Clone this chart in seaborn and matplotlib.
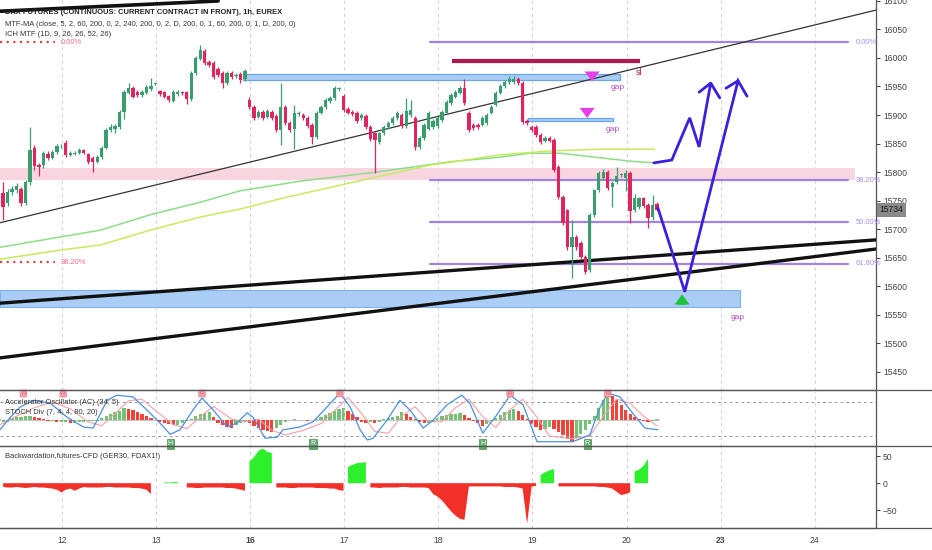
import seaborn as sns
import matplotlib.pyplot as plt
import numpy as np
from matplotlib.lines import Line2D

sns.set_theme(style="white")
plt.rcParams['font.family'] = ['Liberation Sans', 'DejaVu Sans']

# --- hourly candles (bar index 0..146) ---
opens = [15763, 15746, 15765, 15768, 15770, 15746, 15782, 15842, 15812, 15812, 15832, 15825, 15835, 15845, 15851,
         15830, 15832, 15833, 15839, 15832, 15825, 15818, 15826, 15842, 15874, 15876, 15879, 15905, 15939, 15947,
         15940, 15935, 15939, 15945, 15954, 15942, 15940, 15933, 15925, 15937, 15940, 15940, 15928, 15974, 15999,
         16012, 15993, 15991, 15981, 15974, 15956, 15974, 15968, 15972, 15963, 15926, 15914, 15897, 15905, 15897,
         15905, 15898, 15874, 15914, 15886, 15876, 15902, 15900, 15895, 15883, 15861, 15904, 15914, 15924, 15930,
         15945, 15933, 15911, 15905, 15904, 15895, 15898, 15879, 15868, 15853, 15868, 15879, 15886, 15895, 15900,
         15881, 15900, 15895, 15844, 15860, 15876, 15879, 15881, 15891, 15904, 15921, 15932, 15939, 15947, 15904,
         15883, 15883, 15883, 15886, 15904, 15918, 15939, 15951, 15958, 15958, 15963, 15956, 15890, 15879, 15879,
         15865, 15855, 15860, 15856, 15809, 15756, 15733, 15668, 15686, 15676, 15651, 15628, 15725, 15768, 15790,
         15800, 15773, 15782, 15795, 15790, 15798, 15733, 15739, 15754, 15742, 15721, 15744]
closes = [15739, 15765, 15770, 15775, 15746, 15782, 15839, 15810, 15808, 15833, 15825, 15835, 15846, 15846, 15830,
          15833, 15834, 15839, 15834, 15818, 15818, 15826, 15842, 15874, 15879, 15880, 15905, 15940, 15947, 15932,
          15935, 15940, 15949, 15950, 15955, 15937, 15932, 15926, 15940, 15940, 15938, 15928, 15974, 16000, 16014,
          15991, 15988, 15967, 15970, 15956, 15974, 15967, 15970, 15961, 15977, 15914, 15895, 15905, 15895, 15907,
          15895, 15874, 15914, 15886, 15874, 15904, 15904, 15895, 15881, 15861, 15904, 15914, 15926, 15930, 15947,
          15946, 15909, 15904, 15902, 15890, 15900, 15879, 15858, 15856, 15868, 15879, 15886, 15895, 15904, 15881,
          15907, 15909, 15844, 15860, 15883, 15904, 15890, 15895, 15905, 15923, 15935, 15940, 15947, 15921, 15874,
          15877, 15879, 15895, 15900, 15914, 15939, 15951, 15958, 15963, 15963, 15956, 15888, 15886, 15874, 15865,
          15853, 15860, 15855, 15804, 15756, 15711, 15668, 15686, 15668, 15651, 15625, 15725, 15768, 15798, 15800,
          15772, 15780, 15793, 15795, 15798, 15732, 15754, 15754, 15740, 15719, 15742, 15734]
highs = [15782, 15770, 15776, 15780, 15774, 15786, 15879, 15848, 15816, 15837, 15836, 15839, 15850, 15849, 15856,
         15836, 15837, 15842, 15841, 15834, 15828, 15829, 15846, 15878, 15884, 15884, 15909, 15944, 15956, 15950,
         15943, 15943, 15952, 15965, 15957, 15944, 15942, 15935, 15943, 15943, 15942, 15942, 15977, 16004, 16023,
         16015, 15996, 15994, 15984, 15977, 15977, 15977, 15973, 15975, 15980, 15931, 15917, 15908, 15908, 15910,
         15908, 15901, 15956, 15917, 15889, 15918, 15907, 15903, 15898, 15886, 15907, 15917, 15929, 15933, 15950,
         15949, 15936, 15914, 15908, 15907, 15903, 15901, 15882, 15871, 15871, 15882, 15889, 15898, 15907, 15903,
         15930, 15926, 15898, 15863, 15886, 15907, 15893, 15898, 15908, 15926, 15938, 15943, 15950, 15963, 15907,
         15886, 15886, 15898, 15903, 15917, 15942, 15954, 15961, 15968, 15968, 15966, 15959, 15893, 15882, 15882,
         15868, 15863, 15863, 15859, 15812, 15759, 15736, 15716, 15689, 15679, 15654, 15728, 15771, 15801, 15806,
         15803, 15784, 15809, 15798, 15804, 15801, 15762, 15757, 15757, 15745, 15760, 15747]
lows = [15715, 15740, 15760, 15764, 15740, 15742, 15778, 15804, 15793, 15807, 15821, 15822, 15832, 15842, 15826,
        15828, 15829, 15831, 15831, 15814, 15800, 15815, 15823, 15840, 15871, 15868, 15876, 15893, 15936, 15929,
        15932, 15932, 15936, 15942, 15952, 15934, 15929, 15922, 15922, 15934, 15935, 15919, 15925, 15971, 15996,
        15988, 15984, 15963, 15966, 15947, 15953, 15964, 15965, 15957, 15960, 15910, 15891, 15894, 15892, 15894,
        15891, 15870, 15847, 15882, 15870, 15840, 15899, 15892, 15877, 15849, 15858, 15901, 15911, 15921, 15927,
        15942, 15905, 15901, 15899, 15886, 15892, 15875, 15854, 15798, 15849, 15865, 15876, 15883, 15892, 15877,
        15878, 15897, 15839, 15841, 15857, 15873, 15876, 15878, 15888, 15901, 15918, 15929, 15936, 15917, 15870,
        15873, 15876, 15880, 15883, 15901, 15915, 15936, 15948, 15955, 15955, 15953, 15884, 15883, 15871, 15861,
        15849, 15852, 15852, 15800, 15752, 15707, 15664, 15614, 15664, 15647, 15621, 15625, 15721, 15765, 15787,
        15768, 15739, 15779, 15792, 15766, 15711, 15730, 15736, 15737, 15702, 15716, 15731]
last_price = 15734

# moving averages (bar, price)
ma_green_x = [-0.7, 12.7, 21.7, 32.8, 44.0, 52.9, 66.3, 83.5, 99.8, 110.9, 117.6, 124.3, 133.3, 140.0, 145.5]
ma_green_y = [15668, 15686, 15698, 15725, 15747, 15767, 15784, 15800, 15818, 15826, 15833, 15833, 15825, 15819, 15816]
ma_yellow_x = [-0.7, 12.7, 21.7, 32.8, 44.0, 52.9, 61.8, 77.5, 95.3, 110.9, 122.1, 133.3, 145.5]
ma_yellow_y = [15647, 15663, 15672, 15698, 15721, 15735, 15753, 15781, 15812, 15830, 15837, 15840, 15840]

# drawings
fib_levels = [16028, 15786, 15712, 15639]
fib_labels = ['0.00%', '38.20%', '50.00%', '61.80%']
left_fib_levels = [16028, 15642]
left_fib_labels = ['0.00%', '38.20%']
trend_thin = ([-0.7, 194.9], [15711, 16084])
trend_top = ([-0.7, 48.0], [16082, 16100])
trend_upper = ([-0.7, 194.9], [15570, 15681])
trend_lower = ([-0.7, 194.9], [15474, 15665])
path_b_x = [145.3, 149.3, 153.3, 155.4, 158.0, 160.0]
path_b_y = [15816, 15821, 15895, 15844, 15956, 15930]
head_b = ([155.4, 158.0], [15940, 15956])
path_a_x = [146.2, 152.2, 164.1, 166.1]
path_a_y = [15737, 15590, 15960, 15933]
head_a = ([161.4, 164.1], [15947, 15960])

# --- Accelerator oscillator + stoch ---
ac = [-2, -2, 2, 3, 3, 4, 4, 3, 2, 1, -1, -1, -2, -2, -2, -3, -3, -2, -2, -1, -1, -1, 2, 4, 6, 8, 9, 12, 11, 10,
      8, 6, 4, 2, 0, -2, -3, -4, -5, -5, -3, -1, 1, 4, 6, 7, 8, 3, -3, -5, -7, -8, -5, -3, -2, -3, -6, -8, -10, -11,
      -12, -8, -5, -2, 0, 1, 0, 0, -1, 0, 1, 3, 5, 7, 9, 11, 12, 9, 6, 3, -2, -3, -2, -3, -2, 1, 2, 3, 4, 8,
      6, 3, 1, -2, -3, -3, -2, 2, 4, 5, 6, 6.5, 7, 5, 2, -1, -3, -6, -4, -1, 2, 5, 8, 10, 11, 9, 5, 1, -4, -7,
      -10, -9, -7, -9, -12, -15, -19, -21, -18, -14, -10, -4, 4, 12, 20, 26, 24, 20, 15, 10, 6, 3, 1, -1, -2, -1, 1]
stoch_x = [-0.7, 1.6, 3.8, 6.7, 10.5, 14.3, 17.9, 20.1, 23.2, 25.4, 29.0, 32.1, 35.0, 37.3, 39.5, 42.4, 44.4, 46.9,
           50.0, 52.2, 54.5, 55.8, 58.5, 61.2, 62.5, 66.3, 69.2, 72.3, 75.2, 77.5, 79.7, 81.3, 82.6, 85.7, 88.6, 90.8,
           93.8, 96.0, 99.1, 102.4, 104.2, 107.1, 110.2, 113.2, 116.1, 119.2, 127.2, 131.0, 133.3, 135.0, 137.7,
           140.6, 143.3, 146.2]
stoch_k = [31, 53, 71, 83, 78, 53, 36, 34, 83, 92, 89, 66, 43, 23, 31, 66, 87, 66, 36, 43, 61, 53, 16, 18, 31, 36,
           45, 71, 96, 71, 31, 13, 16, 48, 83, 66, 34, 48, 75, 92, 78, 25, 57, 92, 75, 10, 10, 22, 71, 96, 89, 60,
           34, 31]
stoch_d_x = [-0.7, 3, 7, 11, 15, 19, 22, 25, 28, 31, 34, 38, 41, 45, 47, 51, 54, 57, 60, 63, 67, 71, 74, 77, 80, 83,
             86, 89, 92, 95, 98, 101, 104, 107, 110, 113, 116, 119, 122, 127, 131, 134, 137, 140, 143, 146]
stoch_d = [40, 55, 70, 80, 68, 45, 38, 60, 82, 85, 65, 40, 33, 60, 72, 50, 45, 50, 30, 22, 30, 42, 65, 88, 60, 28,
           25, 55, 72, 45, 45, 70, 85, 55, 35, 65, 85, 55, 20, 15, 20, 55, 85, 78, 55, 38]
div_top_x = [4.5, 13.4, 44.4, 75.2, 113.2, 135.0]
div_bot_x = [37.3, 69.2, 107.1, 130.4]
div_bot_txt = ['H', 'R', 'H', 'R']

# --- backwardation futures vs CFD ---
nan = np.nan
backw = [-7, -8, -8, -7, -8, -9, -8, -7, -8, -8, -9, -10, -12, -17, -12, -10, -14, -10, -7,
         -8, -8, -8, -8, -7, -7, -8, -8, -8, -8, -9, -9, -10, -12, -20, nan, nan, 2, 1, 2, 2, nan,
         -8, -8, -9, -9, -8, -8, -8, -8, -8, -9, -9, -10, -12, -14, 40, 48, 60, 64, 58, 56,
         -8, -8, -8, -9, -9, -8, -8, -8, -8, -9, -9, -9, -10, -10, -13, -14, 30, 34, 37, 38, 39,
         -8, -8, -9, -8, -8, -8, -8, -7, -7, -8, -8, -8, -8, -9,
         -20, -25, -32, -42, -52, -60, -66, -68,
         -6, -6, -6, -6, -6, -6, -6, -6, -7, -7, -7, -8, -10, -75, -6, -5, 15, 20, 24, 26,
         -6, -6, -6, -6, -6, -6, -6, -6, -6, -7, -7, -8, -10, -16, -22, -20, -17, 22, 25, 32, 45, nan, -6]

day_labels = ['12', '13', '16', '17', '18', '19', '20', '23', '24']
day_bold = ['16', '23']

# ------------------------------------------------------------------
UP, DN = '#3a9d6e', '#e0245e'
XLIM = (-0.7, 194.9)
FS = 5.4
bars = np.arange(len(closes))
day_pos = 13.2 + 21 * np.arange(len(day_labels))

fig = plt.figure(figsize=(9.32, 5.5), dpi=100)
ax = fig.add_axes([0, 160 / 550, 876 / 932, 390 / 550])
ax_ac = fig.add_axes([0, 104 / 550, 876 / 932, 55 / 550])
ax_bw = fig.add_axes([0, 22 / 550, 876 / 932, 81 / 550])

for a in (ax, ax_ac, ax_bw):
    a.set_xlim(*XLIM)
    a.set_facecolor('white')
    for s in ('top', 'left'):
        a.spines[s].set_visible(False)
    a.spines['right'].set_color('#555555')
    a.spines['bottom'].set_color('#555555')
    a.spines['right'].set_linewidth(0.9)
    a.spines['bottom'].set_linewidth(0.9)
    a.yaxis.tick_right()
    a.tick_params(axis='y', labelsize=6.2, length=3, colors='#444444', pad=2, direction='out', width=0.7)
    a.set_xticks([])
    a.vlines(day_pos, 0, 1, transform=a.get_xaxis_transform(), colors='#d5d5d5',
             linestyles=(0, (3, 3)), lw=0.8, zorder=0)
    a.grid(False)

# --- main pane ---
ax.set_ylim(15417.7, 16101.7)
ax.set_yticks(np.arange(15450, 16101, 50))

ax.axhspan(15786, 15807, xmin=0, xmax=(190.2 - XLIM[0]) / (XLIM[1] - XLIM[0]), color='#f9d5e0', lw=0, zorder=0.5)
ax.fill_between([53.6, 137.7], 15961, 15972, color='#a9cdf4', ec='#6aa6ec', lw=0.9, zorder=1)
ax.fill_between([117.2, 136.2], 15889, 15895, color='#a9cdf4', ec='#6aa6ec', lw=0.9, zorder=1)
ax.fill_between([-0.7, 164.5], 15563, 15593, color='#a9cdf4', ec='#7fb2ee', lw=0.8, zorder=1)
ax.plot([100.2, 142.2], [15995, 15995], color='#b0174f', lw=3, solid_capstyle='butt', zorder=2)

for lvl, lab in zip(fib_levels, fib_labels):
    ax.plot([95.3, 188.6], [lvl, lvl], color='#a084e0', lw=1.6, zorder=2)
    ax.text(190.4, lvl, lab, color='#a48ee8', fontsize=FS, va='center', ha='left')
for lvl, lab in zip(left_fib_levels, left_fib_labels):
    ax.plot([-0.7, 11.6], [lvl, lvl], color='#e53935', lw=1.5, ls=(0, (1, 2.2)), zorder=2)
    ax.text(12.9, lvl, lab, color='#f06a8a', fontsize=FS, va='center', ha='left')

sns.lineplot(x=ma_green_x, y=ma_green_y, ax=ax, color='#8fdc8a', lw=1.1, zorder=2)
sns.lineplot(x=ma_yellow_x, y=ma_yellow_y, ax=ax, color='#c4ec5c', lw=1.1, zorder=2)

ax.plot(*trend_thin, color='#333333', lw=0.9, zorder=2)
ax.plot(*trend_top, color='#111111', lw=2.6, zorder=2)
ax.plot(*trend_upper, color='#111111', lw=2.4, zorder=2)
ax.plot(*trend_lower, color='#111111', lw=2.4, zorder=2)

o, c = np.array(opens), np.array(closes)
col = np.where(c >= o, UP, DN)
ax.vlines(bars, lows, highs, colors=col, lw=0.9, zorder=3)
ax.bar(bars, np.maximum(np.abs(c - o), 1.5), bottom=np.minimum(o, c), width=0.74, color=col, lw=0, zorder=4)

ax.plot(path_b_x, path_b_y, color='#3d1fdc', lw=2, zorder=5, solid_joinstyle='miter')
ax.plot(*head_b, color='#3d1fdc', lw=2, zorder=5)
ax.plot(path_a_x, path_a_y, color='#3d1fdc', lw=2, zorder=5, solid_joinstyle='miter')
ax.plot(*head_a, color='#3d1fdc', lw=2, zorder=5)

arrow = dict(arrowstyle='simple,head_width=0.9,head_length=0.6,tail_width=0.45', lw=0)
ax.annotate('', xy=(131.5, 15954), xytext=(131.5, 15981),
            arrowprops=dict(arrow, color='#e83ee8'), zorder=6)
ax.annotate('', xy=(130.4, 15890), xytext=(130.4, 15917),
            arrowprops=dict(arrow, color='#e83ee8'), zorder=6)
ax.annotate('', xy=(151.6, 15590), xytext=(151.6, 15562),
            arrowprops=dict(arrow, color='#19c436'), zorder=6)
ax.text(141.3, 15974, 'sl', color='#c2185b', fontsize=6.5, va='center', ha='left')
ax.text(135.6, 15949, 'gap', color='#b84dc8', fontsize=6, va='center', ha='left')
ax.text(134.6, 15875, 'gap', color='#b84dc8', fontsize=6, va='center', ha='left')
ax.text(162.5, 15544, 'gap', color='#b84dc8', fontsize=6, va='center', ha='left')

ax.text(5 / 876, 1 - 12 / 390, 'DAX FUTURES (CONTINUOUS: CURRENT CONTRACT IN FRONT), 1h, EUREX',
        transform=ax.transAxes, fontsize=FS, color='#222222', va='center', weight='bold')
ax.text(5 / 876, 1 - 24 / 390,
        'MTF-MA (close, 5, 2, 60, 200, 0, 2, 240, 200, 0, 2, D, 200, 0, 1, 60, 200, 0, 1, D, 200, 0)',
        transform=ax.transAxes, fontsize=FS, color='#333333', va='center')
ax.text(5 / 876, 1 - 35 / 390, 'ICH MTF (1D, 9, 26, 26, 52, 26)',
        transform=ax.transAxes, fontsize=FS, color='#333333', va='center')

ax.text(1.004, last_price, str(last_price), transform=ax.get_yaxis_transform(), fontsize=6.2,
        color='#1a1a1a', va='center', ha='left', zorder=10, clip_on=False,
        bbox=dict(boxstyle='square,pad=0.3', fc='#8a8a8a', ec='none'))

# --- AC / stoch pane ---
ax_ac.set_ylim(2.4, 99.4)
ax_ac.set_yticks([50])
ac_tw = ax_ac.twinx()
ac_tw.set_xlim(*XLIM)
ac_tw.set_ylim(-26, 29)
ac_tw.set_yticks([])
for s in ac_tw.spines.values():
    s.set_visible(False)
ac_arr = np.array(ac, dtype=float)
ac_col = np.where(np.diff(ac_arr, prepend=ac_arr[0] - 1) >= 0, '#72c176', '#f2433a')
ac_tw.plot([-0.7, 146.5], [0, 0], color='#c8c8c8', lw=0.8, zorder=0)
ac_tw.bar(bars, ac_arr, width=0.72, color=ac_col, lw=0, zorder=1)

# stoch lines drawn on the 0..100 pane axis, above the AC bars
ax_ac.set_zorder(ac_tw.get_zorder() + 1)
ax_ac.patch.set_visible(False)
ax_ac.axhline(80, color='#9a9a9a', lw=0.7, ls=(0, (3, 3)))
ax_ac.axhline(20, color='#9a9a9a', lw=0.7, ls=(0, (3, 3)))
sns.lineplot(x=stoch_d_x, y=stoch_d, ax=ax_ac, color='#f4a0a8', lw=0.8, zorder=2)
sns.lineplot(x=stoch_x, y=stoch_k, ax=ax_ac, color='#4c8fe0', lw=0.9, zorder=3)
for xv in div_top_x:
    ax_ac.text(xv, 95, 'R', fontsize=4.5, color='#e06070', ha='center', va='center', zorder=6,
               bbox=dict(boxstyle='round,pad=0.15', fc='#f7a9b0', ec='#e07080', lw=0.5))
for xv, t in zip(div_bot_x, div_bot_txt):
    ax_ac.text(xv, 6, t, fontsize=5, color='white', ha='center', va='center', zorder=6,
               bbox=dict(boxstyle='square,pad=0.15', fc='#5fa86a', ec='#4a8f55', lw=0.5))
ax_ac.text(5 / 876, 0.8, 'Accelerator Oscillator (AC) (34; 5)', transform=ax_ac.transAxes,
           fontsize=FS, color='#333333', va='center', zorder=7)
ax_ac.text(5 / 876, 0.6, 'STOCH Div (7, 4, 4, 80, 20)', transform=ax_ac.transAxes,
           fontsize=FS, color='#333333', va='center', zorder=7)

# --- backwardation pane ---
bw = np.array(backw, dtype=float)
ax_bw.set_ylim(-83, 67)
ax_bw.set_yticks([50, 0, -50])
ax_bw.fill_between(bars, 0, bw, where=bw < 0, color='#f2302a', lw=0, interpolate=False)
ax_bw.fill_between(bars, 0, bw, where=bw > 0, color='#2cf02c', lw=0, interpolate=False)
ax_bw.text(5 / 876, 0.877, 'Backwardation,futures-CFD (GER30, FDAX1!)', transform=ax_bw.transAxes,
           fontsize=FS, color='#333333', va='center')
ax_bw.set_xticks(day_pos)
ax_bw.set_xticklabels(day_labels)
ax_bw.tick_params(axis='x', labelsize=6.2, length=3, colors='#444444', pad=3, width=0.7)
for lab in ax_bw.get_xticklabels():
    if lab.get_text() in day_bold:
        lab.set_fontweight('bold')

# full-width pane separators
for yy in (160 / 550, 104 / 550 + 0.5 / 550, 22 / 550):
    fig.add_artist(Line2D([0, 1], [yy, yy], color='#555555', lw=0.9))

fig.savefig('out.png', dpi=100)
